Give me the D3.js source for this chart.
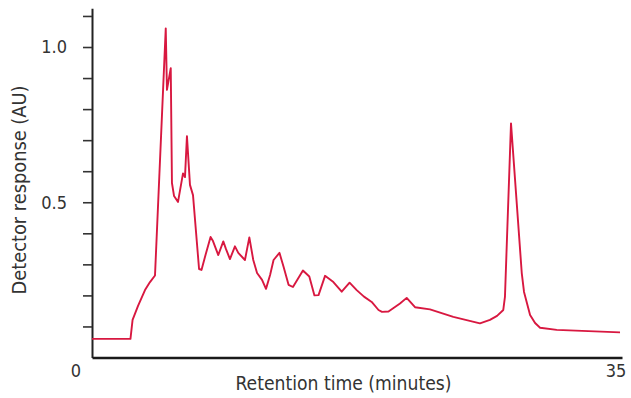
<!DOCTYPE html>
<html>
<head>
<meta charset="utf-8">
<script src="https://cdn.jsdelivr.net/npm/d3@7/dist/d3.min.js"></script>
<style>
  html, body { margin: 0; padding: 0; background: #ffffff; }
  svg { display: block; }
  .lbl { font-family: "Liberation Sans Narrow", "DejaVu Sans Condensed", "Liberation Sans", sans-serif; fill: #333333; }
</style>
</head>
<body>
<svg id="chart" width="631" height="398"></svg>
<script>
// Chromatogram trace: retention time (minutes) and detector response (AU)
const retentionTime = [
  0, 2.54, 2.68, 3.04, 3.50, 3.83, 4.16, 4.87, 4.95, 5.20, 5.28, 5.42, 5.68,
  6.01, 6.14, 6.27, 6.47, 6.67, 7.07, 7.23, 7.46, 7.83, 7.99, 8.34, 8.67, 8.85,
  9.11, 9.44, 9.66, 10.10, 10.39, 10.65, 10.90, 11.23, 11.49, 11.76, 11.99,
  12.38, 12.65, 12.98, 13.27, 13.93, 14.35, 14.69, 14.96, 15.39, 15.94, 16.49,
  17.01, 17.48, 17.96, 18.47, 18.92, 19.15, 19.58, 20.34, 20.78, 21.33, 22.32,
  23.86, 25.62, 26.28, 26.75, 27.16, 27.27, 27.67, 28.38, 28.53, 28.93, 29.26,
  29.59, 30.69, 34.87
];
const response = [
  0.060, 0.060, 0.121, 0.166, 0.217, 0.243, 0.264, 1.060, 0.862, 0.932, 0.562, 0.520, 0.501,
  0.593, 0.581, 0.713, 0.556, 0.523, 0.285, 0.282, 0.324, 0.388, 0.375, 0.330, 0.374, 0.349,
  0.317, 0.358, 0.337, 0.314, 0.387, 0.314, 0.272, 0.250, 0.221, 0.266, 0.314,
  0.337, 0.292, 0.234, 0.227, 0.280, 0.261, 0.200, 0.201, 0.263, 0.243, 0.212,
  0.241, 0.217, 0.196, 0.179, 0.153, 0.147, 0.148, 0.174, 0.192, 0.162, 0.155,
  0.131, 0.110, 0.121, 0.134, 0.153, 0.195, 0.754, 0.272, 0.211, 0.137, 0.111,
  0.096, 0.089, 0.081
];

// Axis ticks
const yTickValues = [0.1, 0.2, 0.3, 0.4, 0.5, 0.6, 0.7, 0.8, 0.9, 1.0, 1.1];
const yLabeledTicks = [0.5, 1.0];
const xEndLabels = [0, 35];

const xTitle = "Retention time (minutes)";
const yTitle = "Detector response (AU)";

const svg = d3.select("#chart");
const margin = { left: 92, right: 9, top: 8.2, bottom: 40.5 };
const W = 631, H = 398;

const x = d3.scaleLinear().domain([0, 35]).range([margin.left, W - margin.right]);
const y = d3.scaleLinear().domain([0, 1.125]).range([H - margin.bottom, margin.top]);

// Y axis with tick marks every 0.1, labels only at 0.5 and 1.0
const yAxis = d3.axisLeft(y)
  .tickValues(yTickValues)
  .tickSize(9)
  .tickSizeOuter(0)
  .tickPadding(16)
  .tickFormat(d => yLabeledTicks.some(v => Math.abs(v - d) < 1e-9) ? d3.format(".1f")(d) : "");

const gy = svg.append("g")
  .attr("transform", `translate(${margin.left},0)`)
  .call(yAxis);
gy.select(".domain").attr("stroke", "#222").attr("stroke-width", 2);
gy.selectAll(".tick line").attr("stroke", "#333").attr("stroke-width", 1.6);
gy.selectAll(".tick text")
  .attr("class", "lbl")
  .style("font-size", "18px")
  .attr("fill", "#333");

// X axis baseline
const xAxis = d3.axisBottom(x).tickValues([]).tickSizeOuter(0);
const gx = svg.append("g")
  .attr("transform", `translate(0,${y(0)})`)
  .call(xAxis);
gx.select(".domain").attr("stroke", "#1a1a1a").attr("stroke-width", 2.6);

// End labels of the time axis
svg.append("g").selectAll("text")
  .data(xEndLabels)
  .join("text")
  .attr("class", "lbl")
  .attr("x", d => d === 0 ? x(d) - 16 : x(d) - 6)
  .attr("y", y(0) + 19)
  .attr("text-anchor", "middle")
  .style("font-size", "18px")
  .text(d => d);

// Axis titles
svg.append("text")
  .attr("class", "lbl")
  .attr("x", 343.5)
  .attr("y", 390)
  .attr("text-anchor", "middle")
  .attr("textLength", 216)
  .attr("lengthAdjust", "spacingAndGlyphs")
  .style("font-size", "19px")
  .text(xTitle);

svg.append("text")
  .attr("class", "lbl")
  .attr("transform", "translate(26,190) rotate(-90)")
  .attr("text-anchor", "middle")
  .attr("textLength", 209)
  .attr("lengthAdjust", "spacingAndGlyphs")
  .style("font-size", "19px")
  .text(yTitle);

// Trace
const trace = retentionTime.map((t, i) => [t, response[i]]);
const line = d3.line()
  .x(d => x(d[0]))
  .y(d => y(d[1]))
  .curve(d3.curveLinear);

svg.append("path")
  .datum(trace)
  .attr("d", line)
  .attr("fill", "none")
  .attr("stroke", "#d81840")
  .attr("stroke-width", 1.9)
  .attr("stroke-linejoin", "round");
</script>
</body>
</html>
